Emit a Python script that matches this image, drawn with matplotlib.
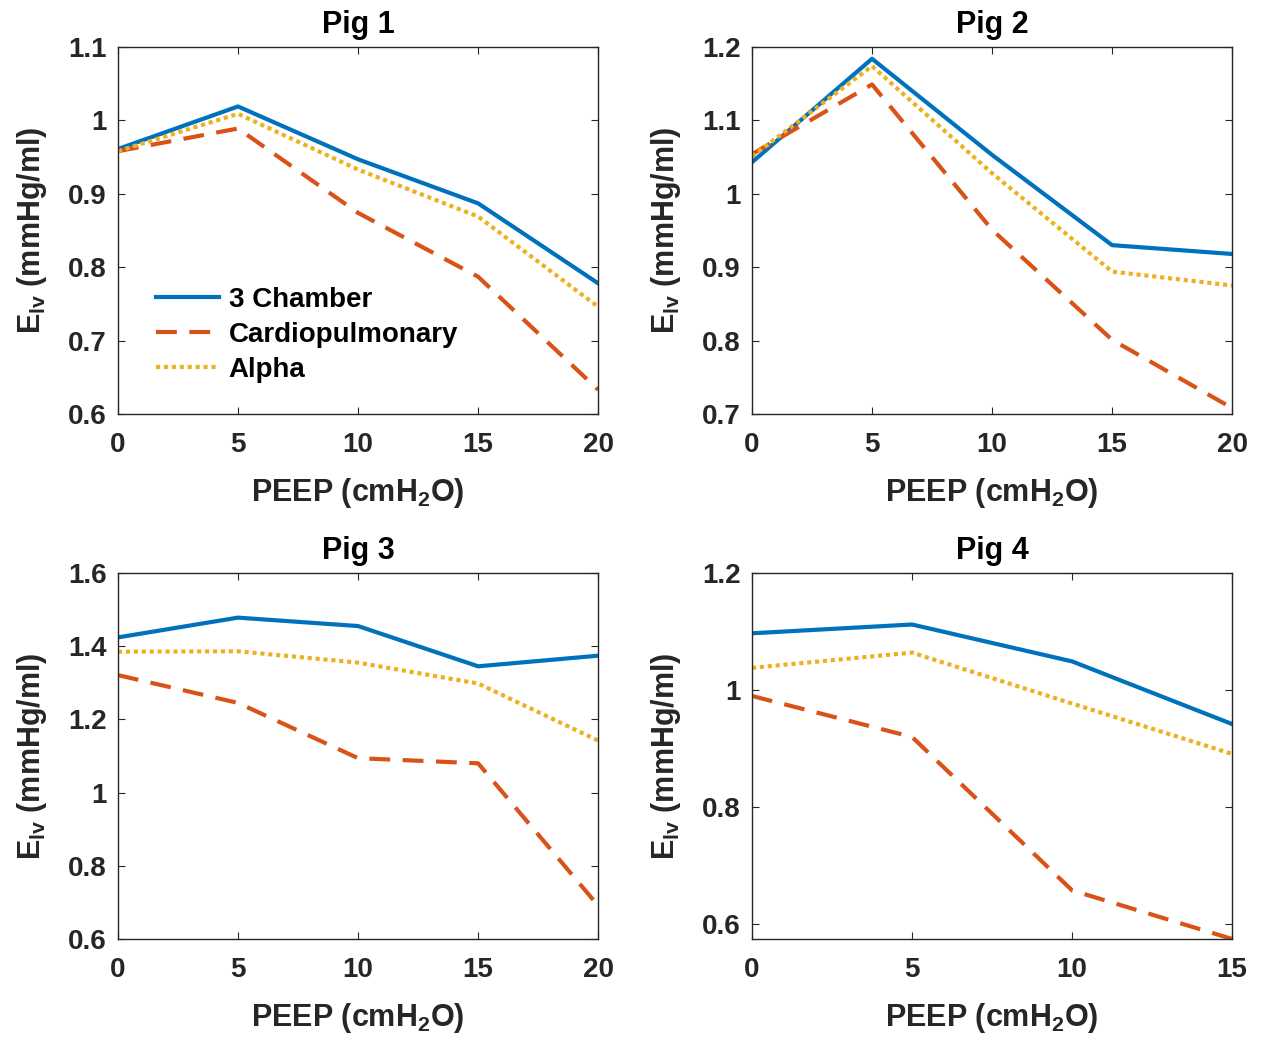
import matplotlib as mpl
import matplotlib.pyplot as plt
from matplotlib.ticker import FuncFormatter

BLUE = "#0072BD"
RED = "#D95319"
YELLOW = "#EDB120"
EDGE = "#262626"

# PEEP levels per pig
peep_20 = [0, 5, 10, 15, 20]
peep_15 = [0, 5, 10, 15]

# Pig 1
pig1_three = [0.961, 1.019, 0.947, 0.887, 0.778]
pig1_cardio = [0.958, 0.989, 0.874, 0.787, 0.633]
pig1_alpha = [0.958, 1.009, 0.933, 0.869, 0.746]

# Pig 2
pig2_three = [1.043, 1.184, 1.053, 0.930, 0.918]
pig2_cardio = [1.054, 1.149, 0.951, 0.801, 0.708]
pig2_alpha = [1.051, 1.174, 1.028, 0.894, 0.875]

# Pig 3
pig3_three = [1.424, 1.478, 1.455, 1.345, 1.374]
pig3_cardio = [1.321, 1.245, 1.094, 1.080, 0.691]
pig3_alpha = [1.385, 1.386, 1.355, 1.298, 1.142]

# Pig 4
pig4_three = [1.097, 1.112, 1.049, 0.942]
pig4_cardio = [0.990, 0.920, 0.658, 0.575]
pig4_alpha = [1.038, 1.064, 0.977, 0.891]

titles = ["Pig 1", "Pig 2", "Pig 3", "Pig 4"]
ylims = [(0.6, 1.1), (0.7, 1.2), (0.6, 1.6), (0.575, 1.2)]
yticks = [
    [0.6, 0.7, 0.8, 0.9, 1.0, 1.1],
    [0.7, 0.8, 0.9, 1.0, 1.1, 1.2],
    [0.6, 0.8, 1.0, 1.2, 1.4, 1.6],
    [0.6, 0.8, 1.0, 1.2],
]
xticks = [peep_20, peep_20, peep_20, peep_15]

mpl.rcParams.update(
    {
        "font.family": ["Liberation Sans", "DejaVu Sans"],
        "font.weight": "bold",
        "axes.labelweight": "bold",
        "axes.titleweight": "bold",
        "mathtext.fontset": "custom",
        "mathtext.rm": "Liberation Sans:bold",
        "mathtext.it": "Liberation Sans:bold",
        "mathtext.bf": "Liberation Sans:bold",
        "axes.edgecolor": EDGE,
        "axes.linewidth": 1.0,
        "xtick.color": EDGE,
        "ytick.color": EDGE,
        "xtick.direction": "in",
        "ytick.direction": "in",
        "xtick.top": True,
        "ytick.right": True,
        "xtick.major.size": 5,
        "ytick.major.size": 5,
        "xtick.labelsize": 20,
        "ytick.labelsize": 20,
        "axes.titlesize": 22,
        "axes.labelsize": 22,
    }
)

fig = plt.figure(figsize=(12.67, 10.38), dpi=100)
positions = [
    (0.0931, 0.6012, 0.379, 0.3535),
    (0.5935, 0.6012, 0.379, 0.3535),
    (0.0931, 0.0954, 0.379, 0.3526),
    (0.5935, 0.0954, 0.379, 0.3526),
]
series = [
    (peep_20, pig1_three, pig1_cardio, pig1_alpha),
    (peep_20, pig2_three, pig2_cardio, pig2_alpha),
    (peep_20, pig3_three, pig3_cardio, pig3_alpha),
    (peep_15, pig4_three, pig4_cardio, pig4_alpha),
]

fmt = FuncFormatter(lambda v, _: f"{v:g}")

for i, (pos, (x, three, cardio, alpha)) in enumerate(zip(positions, series)):
    ax = fig.add_axes(pos)
    ax.plot(x, three, color=BLUE, lw=3.0, ls="-", label="3 Chamber")
    ax.plot(x, cardio, color=RED, lw=3.0, ls=(0, (5, 3)), label="Cardiopulmonary")
    ax.plot(x, alpha, color=YELLOW, lw=3.0, ls=(0, (1, 0.9)), label="Alpha")
    ax.set_xlim(x[0], x[-1])
    ax.set_ylim(*ylims[i])
    ax.set_xticks(xticks[i])
    ax.set_yticks(yticks[i])
    ax.yaxis.set_major_formatter(fmt)
    ax.tick_params(axis="x", labelcolor=EDGE, pad=13)
    ax.tick_params(axis="y", labelcolor=EDGE, pad=8)
    for lab in ax.get_xticklabels() + ax.get_yticklabels():
        lab.set_fontweight("bold")
    ax.set_title(titles[i], pad=10)
    ax.set_xlabel("PEEP (cmH$_2$O)", color=EDGE, labelpad=13)
    ax.set_ylabel("E$_{lv}$ (mmHg/ml)", color=EDGE, labelpad=14)
    if i == 0:
        ax.legend(
            loc="upper left",
            bbox_to_anchor=(0.08, 0.346),
            frameon=False,
            fontsize=20,
            handlelength=2.27,
            handletextpad=0.33,
            labelspacing=0.32,
            borderpad=0,
            borderaxespad=0,
        )

fig.savefig("out.png", dpi=100)
